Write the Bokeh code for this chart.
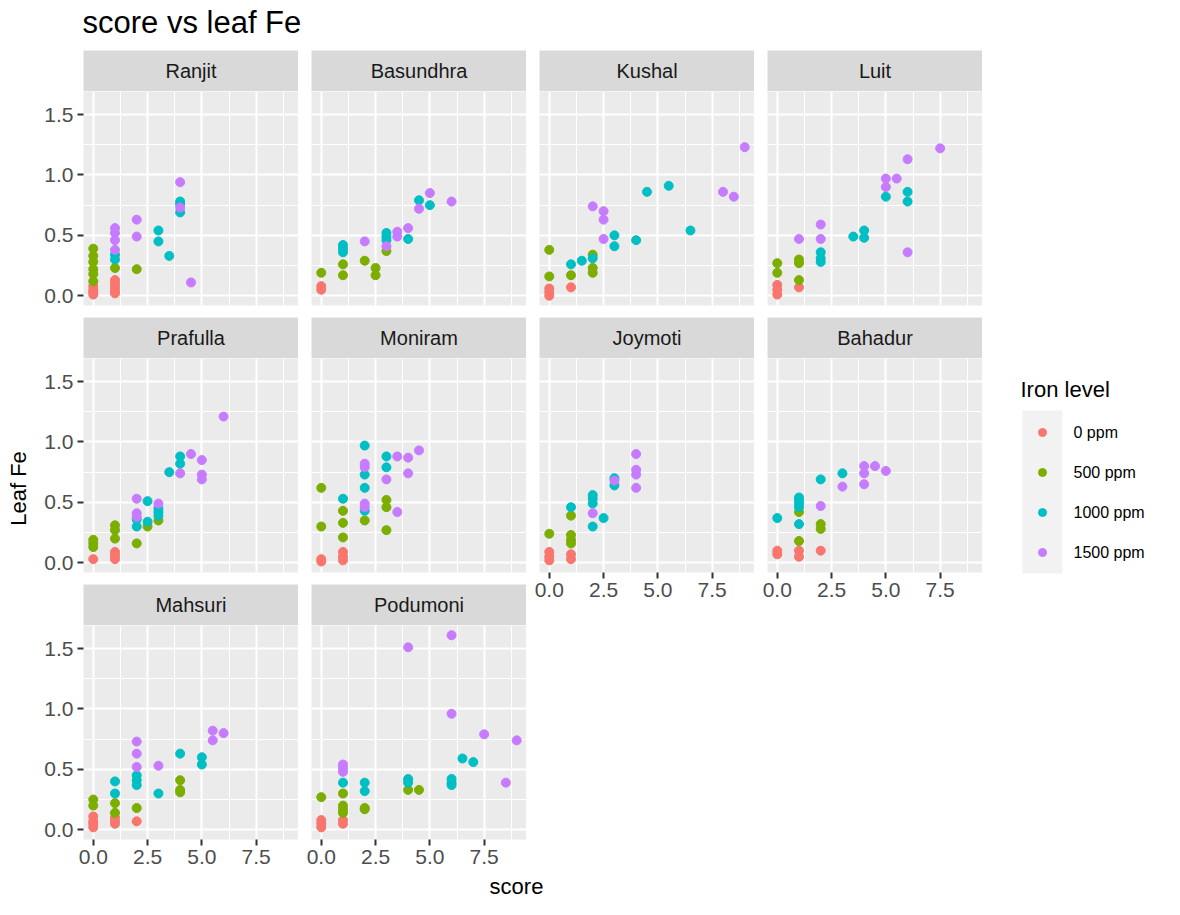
from bokeh.plotting import figure
from bokeh.layouts import column, row
from bokeh.models import Range1d, FixedTicker, PrintfTickFormatter
from bokeh.core.properties import value
from bokeh.embed import file_html
from bokeh.resources import INLINE

# ---------------- data ----------------
LEVELS = ["0 ppm", "500 ppm", "1000 ppm", "1500 ppm"]
COLORS = ["#F8766D", "#7CAE00", "#00BFC4", "#C77CFF"]

VARIETIES = ["Ranjit", "Basundhra", "Kushal", "Luit", "Prafulla",
             "Moniram", "Joymoti", "Bahadur", "Mahsuri", "Podumoni"]

X_TICKS = [0, 2.5, 5.0, 7.5]
X_MINOR = [1.25, 3.75, 6.25, 8.75]
Y_TICKS = [0.0, 0.5, 1.0, 1.5]
Y_MINOR = [0.25, 0.75, 1.25]

# each: level -> (score list, leaf Fe list)
RANJIT = {
    "0 ppm": ([0, 0, 0, 0, 1, 1, 1, 1, 1], [0.08, 0.05, 0.03, 0.01, 0.13, 0.10, 0.07, 0.04, 0.02]),
    "500 ppm": ([0, 0, 0, 0, 0, 0, 1, 2], [0.39, 0.33, 0.28, 0.22, 0.18, 0.12, 0.23, 0.22]),
    "1000 ppm": ([1, 1, 3, 3, 3.5, 4, 4, 4], [0.34, 0.30, 0.54, 0.45, 0.33, 0.78, 0.76, 0.69]),
    "1500 ppm": ([1, 1, 1, 1, 2, 2, 4, 4, 4.5], [0.56, 0.52, 0.46, 0.38, 0.63, 0.49, 0.94, 0.73, 0.11]),
}
BASUNDHRA = {
    "0 ppm": ([0, 0], [0.08, 0.05]),
    "500 ppm": ([0, 1, 1, 2, 2.5, 2.5, 3], [0.19, 0.26, 0.17, 0.29, 0.23, 0.17, 0.37]),
    "1000 ppm": ([1, 1, 1, 3, 3, 3, 4, 4.5, 5], [0.42, 0.39, 0.36, 0.52, 0.49, 0.46, 0.47, 0.79, 0.75]),
    "1500 ppm": ([2, 3, 3.5, 3.5, 4, 4.5, 5, 6], [0.45, 0.41, 0.53, 0.49, 0.56, 0.72, 0.85, 0.78]),
}
KUSHAL = {
    "0 ppm": ([0, 0, 0, 1], [0.06, 0.03, 0.00, 0.07]),
    "500 ppm": ([0, 0, 1, 2, 2, 2], [0.38, 0.16, 0.17, 0.34, 0.23, 0.19]),
    "1000 ppm": ([1, 1.5, 2, 3, 3, 4, 4.5, 5.5, 6.5], [0.26, 0.29, 0.31, 0.50, 0.41, 0.46, 0.86, 0.91, 0.54]),
    "1500 ppm": ([2, 2.5, 2.5, 2.5, 8, 8.5, 9], [0.74, 0.70, 0.63, 0.47, 0.86, 0.82, 1.23]),
}
LUIT = {
    "0 ppm": ([0, 0, 0, 1], [0.09, 0.05, 0.01, 0.07]),
    "500 ppm": ([0, 0, 1, 1, 1], [0.27, 0.19, 0.30, 0.27, 0.13]),
    "1000 ppm": ([2, 2, 2, 3.5, 4, 4, 5, 6, 6], [0.36, 0.31, 0.28, 0.49, 0.54, 0.48, 0.82, 0.86, 0.78]),
    "1500 ppm": ([1, 2, 2, 5, 5, 5.5, 6, 6, 7.5], [0.47, 0.59, 0.47, 0.97, 0.90, 0.97, 1.13, 0.36, 1.22]),
}
PRAFULLA = {
    "0 ppm": ([0, 1, 1, 1], [0.03, 0.09, 0.06, 0.03]),
    "500 ppm": ([0, 0, 0, 1, 1, 1, 2, 2.5, 3], [0.19, 0.16, 0.13, 0.31, 0.27, 0.20, 0.16, 0.30, 0.35]),
    "1000 ppm": ([2, 2, 2.5, 2.5, 3, 3, 3, 3.5, 4, 4], [0.36, 0.30, 0.51, 0.34, 0.45, 0.42, 0.39, 0.75, 0.88, 0.82]),
    "1500 ppm": ([2, 2, 2, 3, 4, 4.5, 5, 5, 5, 6], [0.53, 0.41, 0.38, 0.49, 0.74, 0.90, 0.85, 0.73, 0.69, 1.21]),
}
MONIRAM = {
    "0 ppm": ([0, 0, 1, 1, 1], [0.03, 0.01, 0.09, 0.05, 0.02]),
    "500 ppm": ([0, 0, 1, 1, 1, 2, 3, 3, 3], [0.62, 0.30, 0.43, 0.33, 0.21, 0.35, 0.52, 0.46, 0.27]),
    "1000 ppm": ([1, 2, 2, 2, 2, 3, 3], [0.53, 0.97, 0.73, 0.62, 0.43, 0.88, 0.79]),
    "1500 ppm": ([2, 2, 2, 2, 3, 3.5, 3.5, 4, 4, 4.5], [0.82, 0.79, 0.49, 0.46, 0.69, 0.88, 0.42, 0.87, 0.74, 0.93]),
}
JOYMOTI = {
    "0 ppm": ([0, 0, 0, 1, 1], [0.09, 0.05, 0.02, 0.07, 0.03]),
    "500 ppm": ([0, 1, 1, 1, 1], [0.24, 0.39, 0.23, 0.19, 0.16]),
    "1000 ppm": ([1, 2, 2, 2, 2, 2.5, 3, 3], [0.46, 0.56, 0.53, 0.49, 0.30, 0.37, 0.70, 0.64]),
    "1500 ppm": ([2, 3, 4, 4, 4, 4], [0.41, 0.68, 0.90, 0.77, 0.73, 0.62]),
}
BAHADUR = {
    "0 ppm": ([0, 0, 1, 1, 2], [0.10, 0.07, 0.10, 0.05, 0.10]),
    "500 ppm": ([1, 1, 2, 2], [0.42, 0.18, 0.32, 0.28]),
    "1000 ppm": ([0, 1, 1, 1, 1, 1, 2, 3], [0.37, 0.54, 0.52, 0.49, 0.46, 0.32, 0.69, 0.74]),
    "1500 ppm": ([2, 3, 4, 4, 4, 4.5, 5], [0.47, 0.63, 0.80, 0.74, 0.65, 0.80, 0.76]),
}
MAHSURI = {
    "0 ppm": ([0, 0, 0, 0, 1, 1, 1, 2], [0.11, 0.07, 0.05, 0.02, 0.10, 0.07, 0.05, 0.07]),
    "500 ppm": ([0, 0, 1, 1, 2, 4, 4, 4], [0.25, 0.20, 0.22, 0.14, 0.18, 0.41, 0.33, 0.31]),
    "1000 ppm": ([1, 1, 2, 2, 2, 3, 4, 5, 5], [0.40, 0.30, 0.45, 0.41, 0.37, 0.30, 0.63, 0.60, 0.54]),
    "1500 ppm": ([2, 2, 2, 3, 5.5, 5.5, 6], [0.73, 0.63, 0.52, 0.53, 0.82, 0.74, 0.80]),
}
PODUMONI = {
    "0 ppm": ([0, 0, 0, 1, 1], [0.08, 0.05, 0.02, 0.08, 0.05]),
    "500 ppm": ([0, 1, 1, 1, 1, 2, 2, 4, 4.5], [0.27, 0.30, 0.20, 0.17, 0.14, 0.18, 0.17, 0.33, 0.33]),
    "1000 ppm": ([1, 2, 2, 4, 4, 6, 6, 6, 6.5, 7], [0.39, 0.39, 0.32, 0.42, 0.39, 0.42, 0.39, 0.37, 0.59, 0.56]),
    "1500 ppm": ([1, 1, 1, 4, 6, 6, 7.5, 8.5, 9], [0.54, 0.51, 0.48, 1.51, 1.61, 0.96, 0.79, 0.39, 0.74]),
}

DATA = {"Ranjit": RANJIT, "Basundhra": BASUNDHRA, "Kushal": KUSHAL, "Luit": LUIT,
        "Prafulla": PRAFULLA, "Moniram": MONIRAM, "Joymoti": JOYMOTI, "Bahadur": BAHADUR,
        "Mahsuri": MAHSURI, "Podumoni": PODUMONI}

TITLE = "score vs leaf Fe"
X_LABEL = "score"
Y_LABEL = "Leaf Fe"
LEGEND_TITLE = "Iron level"

# ---------------- style / layout constants ----------------
FONT = "Liberation Sans"
FW, FH = 215, 214          # panel frame size
SH = 41                    # strip height
GAP = 12                   # vertical gap below panels
LEFT1 = 45                 # room for y tick labels in first column
COLGAP = 13
AXB = 34                   # room for x tick labels
TITLE_H = 50
TOTAL_W = 1164
TOTAL_H = 899
YLAB_W = 38
MID = 0.3465               # 'middle' anchor height above baseline, in em

# shared ranges (ggplot default 5% expansion)
all_x = [v for d in DATA.values() for xs, ys in d.values() for v in xs]
all_y = [v for d in DATA.values() for xs, ys in d.values() for v in ys]
xpad = 0.05 * (max(all_x) - min(all_x))
ypad = 0.05 * (max(all_y) - min(all_y))
XR = (min(all_x) - xpad, max(all_x) + xpad)
YR = (min(all_y) - ypad, max(all_y) + ypad)


def base_fig(width, height, **kw):
    return figure(width=width, height=height, toolbar_location=None, output_backend="svg",
                  border_fill_color="white", outline_line_color=None, **kw)


def blank_fig(width, height):
    f = base_fig(width, height, x_range=Range1d(0, width), y_range=Range1d(height, 0),
                 x_axis_location=None, y_axis_location=None, min_border=0,
                 background_fill_color="white")
    f.grid.visible = False
    return f


def make_strip(name, first_col):
    bl = LEFT1 if first_col else COLGAP
    s = base_fig(bl + FW, SH, x_range=Range1d(0, 1), y_range=Range1d(0, 1),
                 x_axis_location=None, y_axis_location=None,
                 min_border_left=bl, min_border_right=0, min_border_top=0, min_border_bottom=0,
                 background_fill_color="#D9D9D9")
    s.grid.visible = False
    s.text(x=[0.5], y=[0.5], text=[name], text_align="center", text_baseline="middle",
           text_font=value(FONT), text_font_size="20px", text_color="#1A1A1A")
    return s


def make_panel(name, first_col, bottom_axis):
    bl = LEFT1 if first_col else COLGAP
    bb = AXB if bottom_axis else GAP
    p = base_fig(bl + FW, FH + bb, x_range=Range1d(*XR), y_range=Range1d(*YR),
                 x_axis_location="below" if bottom_axis else None,
                 y_axis_location="left" if first_col else None,
                 min_border_left=bl, min_border_right=0, min_border_top=0, min_border_bottom=bb,
                 background_fill_color="#EBEBEB")
    p.xgrid.ticker = FixedTicker(ticks=X_TICKS, minor_ticks=X_MINOR)
    p.ygrid.ticker = FixedTicker(ticks=Y_TICKS, minor_ticks=Y_MINOR)
    p.grid.grid_line_color = "white"
    p.grid.grid_line_width = 2
    p.grid.minor_grid_line_color = "white"
    p.grid.minor_grid_line_width = 1
    axes = []
    if bottom_axis:
        p.xaxis.ticker = FixedTicker(ticks=X_TICKS)
        p.xaxis.formatter = PrintfTickFormatter(format="%.1f")
        axes.append(p.xaxis)
    if first_col:
        p.yaxis.ticker = FixedTicker(ticks=Y_TICKS)
        p.yaxis.formatter = PrintfTickFormatter(format="%.1f")
        axes.append(p.yaxis)
    for ax in axes:
        ax.axis_line_color = None
        ax.major_tick_line_color = "#333333"
        ax.major_tick_line_width = 2
        ax.major_tick_out = 6
        ax.major_tick_in = 0
        ax.minor_tick_line_color = None
        ax.major_label_text_font = FONT
        ax.major_label_text_font_size = "21px"
        ax.major_label_text_color = "#4D4D4D"
    if bottom_axis:
        p.xaxis.major_label_standoff = 4
    if first_col:
        p.yaxis.major_label_standoff = 4
    data = DATA[name]
    for lvl, col in zip(LEVELS, COLORS):
        xs, ys = data[lvl]
        p.scatter(xs, ys, size=9, fill_color=col, line_color=col)
    return p


layout_cols = [
    (["Ranjit", "Prafulla", "Mahsuri"], True),
    (["Basundhra", "Moniram", "Podumoni"], False),
    (["Kushal", "Joymoti"], False),
    (["Luit", "Bahadur"], False),
]
cols = []
for names, first in layout_cols:
    kids = []
    for i, nm in enumerate(names):
        kids.append(make_strip(nm, first))
        kids.append(make_panel(nm, first, i == len(names) - 1))
    cols.append(column(*kids, spacing=0))

BODY_H = 3 * SH + 2 * (FH + GAP) + FH + AXB

# y axis title (figure starts at page y = TITLE_H)
ylab = blank_fig(YLAB_W, BODY_H)
ylab.text(x=[18], y=[488 - TITLE_H], text=[Y_LABEL], angle=1.5707963, text_align="center",
          text_baseline="middle", text_font=value(FONT), text_font_size="22px", text_color="black")

# legend panel (figure starts at page x = 982, y = TITLE_H)
LEG_W = TOTAL_W - YLAB_W - (LEFT1 + FW) - 3 * (COLGAP + FW)
leg = blank_fig(LEG_W, BODY_H)
leg.text(x=[38], y=[389 - TITLE_H], text=[LEGEND_TITLE], text_align="left", text_baseline="middle",
         text_font=value(FONT), text_font_size="22px", text_color="black")
key_top = 412 - TITLE_H
leg.quad(left=[40], right=[80], top=[key_top - 2], bottom=[key_top + 40 * len(LEVELS) + 1],
         fill_color="#F2F2F2", line_color=None)
key_y = [key_top + 20 + 40 * i for i in range(len(LEVELS))]
leg.scatter(x=[60] * len(LEVELS), y=key_y, size=8, fill_color=COLORS, line_color=COLORS)
leg.text(x=[91] * len(LEVELS), y=key_y, text=LEVELS, text_align="left", text_baseline="middle",
         text_font=value(FONT), text_font_size="16px", text_color="black")

body = row(ylab, *cols, leg, spacing=0)

# title: baseline at page y = 33
tfig = blank_fig(TOTAL_W, TITLE_H)
TITLE_PX = 31
tfig.text(x=[82], y=[33 - MID * TITLE_PX], text=[TITLE], text_align="left", text_baseline="middle",
          text_font=value(FONT), text_font_size=f"{TITLE_PX}px", text_color="black")

# x axis title
XL_H = TOTAL_H - TITLE_H - BODY_H
xfig = blank_fig(TOTAL_W, XL_H)
xfig.text(x=[516], y=[XL_H / 2], text=[X_LABEL], text_align="center", text_baseline="middle",
          text_font=value(FONT), text_font_size="22px", text_color="black")

root = column(tfig, body, xfig, spacing=0)

open("out.html", "w").write(file_html(root, INLINE))
